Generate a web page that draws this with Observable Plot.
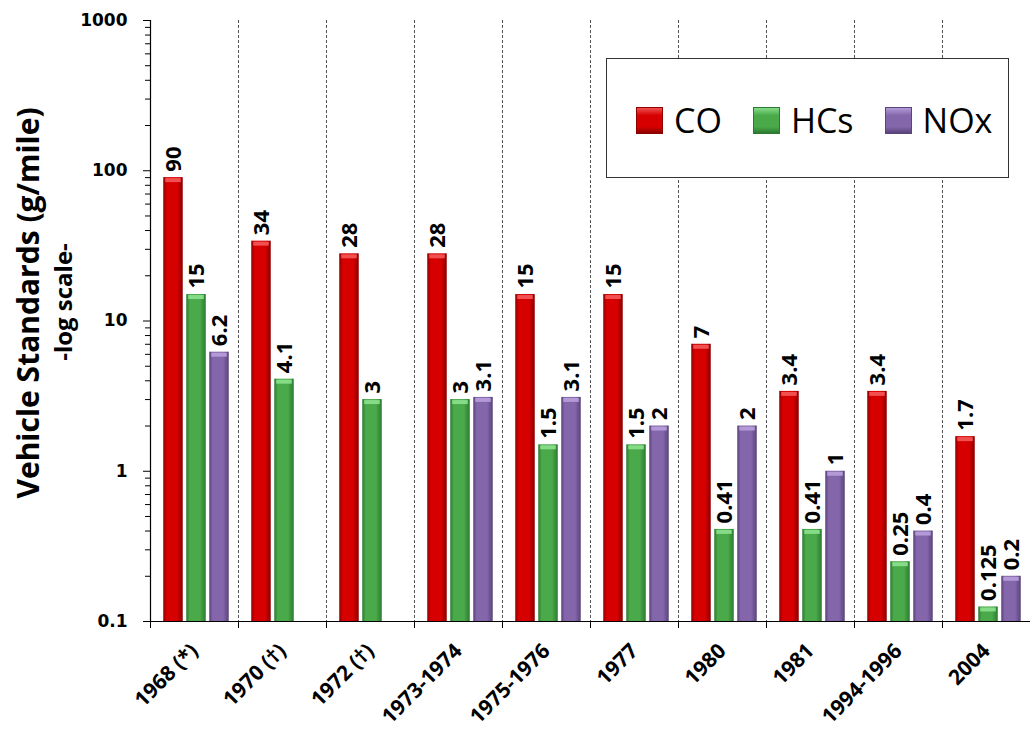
<!DOCTYPE html>
<html><head><meta charset="utf-8">
<script src="https://cdn.jsdelivr.net/npm/d3@7"></script>
<script src="https://cdn.jsdelivr.net/npm/@observablehq/plot@0.6"></script>
<style>
body{margin:0;background:#fff;}
#wrap{position:relative;width:1032px;height:730px;}
#legend{position:absolute;left:606px;top:58px;width:403px;height:120px;border:1.5px solid #333;background:#fff;box-sizing:border-box;display:flex;align-items:center;padding-left:29px;padding-top:4px;font-family:"Open Sans";font-size:34px;color:#000;}
.item{display:flex;align-items:center;margin-right:31px;}
.sw{width:27px;height:27px;margin-right:11px;box-sizing:border-box;}
</style></head><body><div id="wrap"></div>
<script>
const categories = ["1968 (*)","1970 (†)","1972 (†)","1973-1974","1975-1976","1977","1980","1981","1994-1996","2004"];
const co  = [90, 34, 28, 28, 15, 15, 7, 3.4, 3.4, 1.7];
const hcs = [15, 4.1, 3, 3, 1.5, 1.5, 0.41, 0.41, 0.25, 0.125];
const nox = [6.2, null, null, 3.1, 3.1, 2, 2, 1, 0.4, 0.2];
const seriesNames = ["CO", "HCs", "NOx"];
const yTicks = [0.1, 1, 10, 100, 1000];

const W = 1032, H = 730, mL = 150, mR = 2, mT = 20, mB = 109;
const bw = (W - mL - mR) / categories.length;
const barW = 19.5, barStep = 23;

const styles = [
  {edge: "#8c0000", mid: "#d60000", cap: "#f05050"},
  {edge: "#2c7a32", mid: "#4aaa4a", cap: "#86dc86"},
  {edge: "#5a447c", mid: "#8466aa", cap: "#b39ad6"}
];
const values = [co, hcs, nox];

const minorTicks = [];
for (const d of [0.1, 1, 10, 100]) for (let k = 2; k <= 9; k++) minorTicks.push(+(d * k).toPrecision(3));

function defs() {
  const ns = "http://www.w3.org/2000/svg";
  const g = document.createElementNS(ns, "defs");
  g.innerHTML = styles.map((s, i) => `<linearGradient id="g${i}" x1="0" x2="1" y1="0" y2="0">
    <stop offset="0" stop-color="${s.edge}"/><stop offset="0.18" stop-color="${s.mid}"/>
    <stop offset="0.7" stop-color="${s.mid}"/><stop offset="1" stop-color="${s.edge}"/></linearGradient>`).join("");
  return g;
}

const marks = [defs];
// dashed separators
marks.push(Plot.ruleX(categories.slice(1), {x: d => d, dx: -bw / 2, stroke: "#555", strokeDasharray: "3,2", strokeWidth: 1}));

values.forEach((vals, i) => {
  const rows = categories.map((c, j) => ({cat: c, v: vals[j]})).filter(d => d.v != null);
  const center = (i + 1) * barStep - bw / 2;
  const insetLeft = bw / 2 + center - barW / 2;
  const insetRight = bw / 2 - center - barW / 2;
  marks.push(Plot.barY(rows, {x: "cat", y1: 0.1, y2: "v", fill: `url(#g${i})`, insetLeft, insetRight}));
  marks.push(Plot.tickY(rows, {x: "cat", y: "v", stroke: styles[i].cap, strokeWidth: 4, dy: 2.5, insetLeft: insetLeft + 2, insetRight: insetRight + 2}));
  marks.push(Plot.text(rows, {x: "cat", y: "v", text: d => String(d.v), rotate: -90, textAnchor: "start", lineAnchor: "middle",
    dx: center, dy: -6, fontSize: 22, fontWeight: "bold", fontFamily: "Open Sans", fill: "#000"}));
});

// axes
marks.push(Plot.ruleY([0.1], {stroke: "#000", strokeWidth: 1.2}));
marks.push(Plot.ruleX([categories[0]], {x: d => d, dx: -bw / 2, stroke: "#000", strokeWidth: 1.2}));
marks.push(Plot.axisY({ticks: yTicks, tickFormat: d => String(d), tickSize: 7, tickPadding: 16, fontSize: 17, fontWeight: "bold", fontFamily: "DejaVu Sans", fill: "#000", label: null}));
marks.push(Plot.axisY({ticks: minorTicks, tickFormat: () => "", tickSize: 5, label: null}));
marks.push(Plot.axisX({ticks: categories, tickFormat: () => "", tickSize: 7, dx: -bw / 2, label: null}));
marks.push(Plot.axisX({ticks: categories, tickSize: 0, tickRotate: -45, tickPadding: 26, fontSize: 21, fontWeight: "bold", fontFamily: "Open Sans", fill: "#000", label: null}));
marks.push(Plot.text(["Vehicle Standards (g/mile)"], {text: d => d, frameAnchor: "left", textAnchor: "middle", dx: -121, dy: -18, rotate: -90, fontSize: 30, fontWeight: "bold", fontFamily: "Open Sans", fill: "#000", letterSpacing: -1}));
marks.push(Plot.text(["-log scale-"], {text: d => d, frameAnchor: "left", textAnchor: "middle", dx: -86, dy: -19, rotate: -90, fontSize: 24, fontWeight: "bold", fontFamily: "Open Sans", fill: "#000", letterSpacing: -0.5}));

const chart = Plot.plot({
  width: W, height: H, marginLeft: mL, marginRight: mR, marginTop: mT, marginBottom: mB,
  x: {type: "band", domain: categories, padding: 0, axis: null, label: null},
  y: {type: "log", domain: [0.1, 1000], axis: null, label: null},
  style: {background: "#fff", color: "#000"},
  marks
});
const wrap = document.getElementById("wrap");
wrap.appendChild(chart);

const leg = document.createElement("div");
leg.id = "legend";
seriesNames.forEach((n, i) => {
  const it = document.createElement("div");
  it.className = "item";
  const sw = document.createElement("div");
  sw.className = "sw";
  const s = styles[i];
  sw.style.background = `linear-gradient(to bottom, ${s.cap} 0%, ${s.mid} 30%, ${s.mid} 75%, ${s.edge} 100%)`;
  sw.style.border = `1px solid ${s.edge}`;
  const t = document.createElement("span");
  t.textContent = n;
  it.appendChild(sw); it.appendChild(t);
  leg.appendChild(it);
});
wrap.appendChild(leg);
</script></body></html>
